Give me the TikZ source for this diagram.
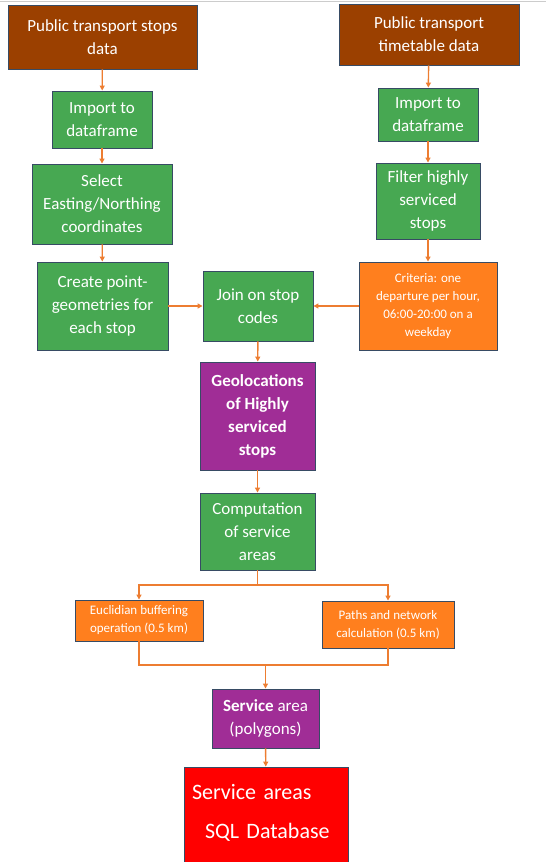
\documentclass[tikz,border=0pt]{standalone}
\usepackage{fontspec}
\setmainfont{Carlito}
\usetikzlibrary{positioning,arrows.meta}
\definecolor{ptbrown}{RGB}{155,64,0}
\definecolor{ptgreen}{RGB}{71,168,82}
\definecolor{ptpurple}{RGB}{160,45,150}
\definecolor{ptorange}{RGB}{255,127,30}
\definecolor{ptred}{RGB}{255,0,0}
\definecolor{ptline}{RGB}{237,125,49}
\definecolor{ptborder}{RGB}{55,75,100}
\newcommand{\bigtext}{\fontsize{17}{23}\selectfont}
\newcommand{\smalltext}{\fontsize{13}{18}\selectfont}

\begin{document}
\begin{tikzpicture}[x=1pt,y=-1pt,
    box/.style={draw=ptborder, line width=0.9pt, text=white, align=center, inner sep=0pt},
    srcbox/.style={box, fill=ptbrown, font=\bigtext},
    stepbox/.style={box, fill=ptgreen, font=\bigtext},
    resbox/.style={box, fill=ptpurple, font=\bigtext},
    notebox/.style={box, fill=ptorange, font=\smalltext},
    arr/.style={draw=ptline, line width=1.4pt, -{Triangle[length=5pt,width=5pt]}},
    lin/.style={draw=ptline, line width=1.4pt}]
    \useasboundingbox (0,0) rectangle (546,862);
    \draw[black!20, line width=1pt] (0,1) -- (546,1);

    % Stops branch
    \node[srcbox, minimum width=189pt, minimum height=64pt] (stops) at (102.5,37) {Public transport stops\\data};
    \node[stepbox, minimum width=100pt, minimum height=57pt] (importL) at (102,119.5) {Import to\\dataframe};
    \node[stepbox, minimum width=140pt, minimum height=80pt] (select) at (102,204) {Select\\Easting/Northing\\coordinates};
    \node[stepbox, minimum width=131pt, minimum height=88pt] (create) at (102.5,306) {Create point-\\geometries for\\each stop};

    % Timetable branch
    \node[srcbox, minimum width=180pt, minimum height=61pt] (timetable) at (429,34.5) {Public transport\\timetable data};
    \node[stepbox, minimum width=100pt, minimum height=53pt] (importR) at (428,114.5) {Import to\\dataframe};
    \node[stepbox, minimum width=104pt, minimum height=76pt] (filter) at (428,201) {Filter highly\\serviced\\stops};
    \node[notebox, minimum width=138pt, minimum height=88pt] (criteria) at (428,306) {Criteria: one\\departure per hour,\\06:00-20:00 on a\\weekday};

    % Join and results
    \node[stepbox, minimum width=110pt, minimum height=70pt] (join) at (258,306) {Join on stop\\codes};
    \node[resbox, minimum width=115pt, minimum height=108pt, font=\bigtext\bfseries] (geo) at (257.5,416) {Geolocations\\of Highly\\serviced\\stops};
    \node[stepbox, minimum width=115pt, minimum height=77pt] (comp) at (257.5,531.5) {Computation\\of service\\areas};
    \node[notebox, minimum width=128pt, minimum height=41pt] (eucl) at (139,620.5) {Euclidian buffering\\operation (0.5 km)};
    \node[notebox, minimum width=132pt, minimum height=47pt] (paths) at (388,624.5) {Paths and network\\calculation (0.5 km)};
    \node[resbox, minimum width=107pt, minimum height=59pt] (svc) at (265.5,718.5) {\textbf{Service} area\\(polygons)};
    \node[box, fill=ptred, font=\fontsize{22}{39}\selectfont, align=left, text width=148pt, inner xsep=8pt,
          text height=32pt, text depth=68pt] (sqldb) at (266,817) {Service areas\\\hspace*{13pt}SQL Database};

    % Connectors
    \coordinate (fork) at (257.5,585);
    \coordinate (merge) at (265.5,665);
    \draw[arr] (stops) -- (importL);
    \draw[arr] (importL) -- (select);
    \draw[arr] (select) -- (create);
    \draw[arr] (timetable) -- (importR);
    \draw[arr] (importR) -- (filter);
    \draw[arr] (filter) -- (criteria);
    \draw[arr] (create) -- (join);
    \draw[arr] (criteria) -- (join);
    \draw[arr] (join) -- (geo);
    \draw[arr] (geo) -- (comp);
    \draw[lin] (comp.south) -- (fork);
    \draw[arr] (fork) -| (eucl.north);
    \draw[arr] (fork) -| (paths.north);
    \draw[lin] (eucl.south) |- (merge) -| (paths.south);
    \draw[arr] (merge) -- (svc.north);
    \draw[arr] (svc) -- (sqldb);
\end{tikzpicture}
\end{document}
